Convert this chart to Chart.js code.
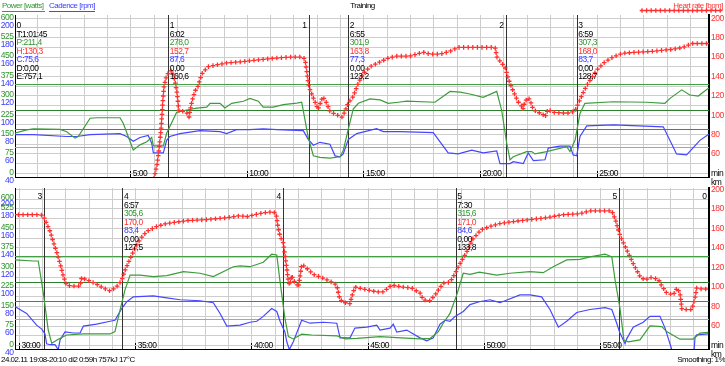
<!DOCTYPE html>
<html>
<head>
<meta charset="utf-8">
<script src="https://cdn.jsdelivr.net/npm/chart.js"></script>
<style>
body { margin: 0; background: #fff; }
#wrap { position: relative; width: 725px; height: 366px; overflow: hidden;
        font-family: "Liberation Sans", Arial, sans-serif; font-size: 8px; letter-spacing: -0.5px; }
canvas { position: absolute; left: 0; top: 0; }
.t { position: absolute; white-space: nowrap; line-height: 10px; }
</style>
</head>
<body>
<div id="wrap">
  <canvas id="top" width="725" height="366"></canvas>
  <canvas id="bottom" width="725" height="366"></canvas>
  <div class="t" style="left:2px;top:1px;color:#2e962e;border-bottom:1px solid #3c9c3c;padding-right:1px">Power [watts]</div>
  <div class="t" style="left:49px;top:1px;color:#3a3aff;border-bottom:1px solid #4646ff">Cadence [rpm]</div>
  <div class="t" style="left:0;width:725px;top:1px;text-align:center">Training</div>
  <div class="t" style="right:2px;top:1px;color:#ff3030">Heart rate [bpm]</div>
  <div class="t" style="left:1px;top:355px">24.02.11 19:08-20:10 di2 0:59h 757kJ 17°C</div>
  <div class="t" style="right:0;top:355px">Smoothing: 1%</div>
</div>
<script>
const FONT = '"Liberation Sans", Arial, sans-serif';
const FS = 8.5;
const GREEN = '#3c9c3c', GREEN_TXT = '#2e962e', BLUE = '#4646ff', BLUE_TXT = '#3a3aff', RED = '#ff3030', GRID = '#cdcdcd';

// heart rate [bpm] over time [min]
const hrTime = [
  6.0, 6.13, 6.21, 6.3, 6.34, 6.38, 6.43, 6.52, 6.64, 6.77,
  6.9, 6.99, 7.07, 7.24, 7.41, 7.5, 7.54, 7.63, 7.76, 7.89,
  7.97, 8.06, 8.31, 8.7, 9.13, 9.68, 10.41, 11.27, 11.83, 12.34,
  12.47, 12.56, 12.64, 12.81, 12.98, 13.03, 13.2, 13.24, 13.41, 13.54,
  13.76, 14.06, 14.19, 14.31, 14.53, 14.74, 14.96, 15.26, 15.69, 16.05,
  16.42, 16.97, 17.53, 17.83, 18.26, 18.69, 19.03, 19.42, 19.97, 20.62,
  20.7, 20.92, 21.04, 21.21, 21.34, 21.47, 21.6, 21.77, 21.81, 21.9,
  22.03, 22.11, 22.24, 22.41, 22.63, 22.76, 22.89, 23.1, 23.7, 24.04,
  24.13, 24.26, 24.39, 24.56, 24.77, 24.99, 25.33, 25.67, 26.1, 26.7,
  27.39, 28.24, 28.68, 29.06, 29.7,
  30.89, 31.03, 31.17, 31.32, 31.46, 31.6, 31.75, 31.89, 32.03, 32.25,
  32.61, 32.68, 32.82, 33.04, 33.32, 33.61, 33.9, 34.11, 34.25, 34.4,
  34.54, 34.76, 34.97, 35.19, 35.48, 35.91, 36.34, 37.2, 38.06, 38.92,
  39.49, 39.78, 40.49, 40.92, 41.04, 41.11, 41.21, 41.35, 41.42, 41.5,
  41.57, 41.64, 41.71, 41.78, 41.9, 42.0, 42.07, 42.14, 42.28, 42.64,
  43.07, 43.43, 43.65, 43.72, 43.79, 44.01, 44.22, 44.29, 44.43, 44.79,
  45.37, 45.65, 46.01, 46.51, 46.87, 47.23, 47.37, 47.66, 47.88, 48.23,
  48.52, 48.74, 48.95, 49.24, 49.52, 49.74, 49.81, 50.24, 50.67, 51.24,
  51.96, 52.68, 53.39, 54.11, 54.54, 55.48, 55.62, 55.83, 56.12, 56.4,
  56.69, 56.91, 57.12, 57.48, 57.63, 57.84, 58.13, 58.28, 58.41, 58.49,
  58.56, 58.92, 59.06, 59.13, 59.35, 59.63
];
const hrBpm = [
  35, 49, 64, 85, 100, 116, 130, 139, 145, 146,
  135, 122, 104, 104, 102, 98, 104, 115, 125, 130,
  137, 143, 150, 152, 154, 155, 157, 159, 160, 160,
  158, 143, 129, 119, 109, 106, 117, 119, 112, 104,
  101, 98, 104, 112, 119, 132, 143, 150, 155, 159,
  161, 161, 165, 163, 163, 166, 170, 170, 170, 170,
  160, 153, 150, 136, 128, 121, 114, 109, 106, 114,
  118, 116, 107, 103, 102, 98, 106, 103, 102, 104,
  109, 116, 123, 131, 139, 147, 155, 160, 164, 165,
  166, 168, 170, 174, 174,
  174, 173, 165, 157, 146, 136, 124, 111, 102, 101,
  101, 110, 108, 106, 103, 99, 96, 99, 102, 107,
  117, 129, 140, 149, 157, 162, 165, 168, 169, 171,
  173, 172, 176, 177, 175, 163, 152, 145, 133, 119,
  105, 102, 112, 107, 104, 100, 111, 123, 121, 113,
  109, 105, 102, 94, 87, 84, 83, 90, 100, 98,
  95, 95, 102, 100, 99, 94, 87, 86, 92, 104,
  105, 114, 124, 136, 150, 155, 158, 162, 165, 167,
  169, 171, 174, 175, 178, 178, 170, 153, 138, 124,
  111, 107, 110, 108, 101, 94, 92, 99, 94, 78,
  77, 77, 89, 99, 98, 98
];

// power [watts]
const powTime = [
  0, 0.54, 0.83, 1.97, 2.26, 2.61, 2.75, 3.26, 3.54, 4.54,
  4.68, 5.11, 5.4, 5.69, 5.9, 5.97, 6.4, 6.54, 6.97, 7.4,
  7.83, 8.26, 8.4, 8.83, 9.04, 9.33, 9.83, 10.11, 10.47, 10.68,
  11.11, 11.54, 12.12, 12.33, 12.61, 12.83, 13.11, 13.54, 13.97, 14.11,
  14.33, 14.54, 14.76, 15.26, 15.69, 16.04, 16.47, 16.83, 18.04, 18.69,
  19.12, 19.54, 20.11, 20.69, 20.9, 21.12, 21.26, 21.4, 21.97, 22.19,
  22.33, 22.83, 23.69, 23.83, 24.05, 24.26, 24.47, 25.69, 27.12, 27.9,
  28.12, 28.62, 28.97, 29.33, 29.76,
  29.81, 30.6, 30.81, 31.03, 31.24, 31.39, 31.67, 32.03, 32.75, 33.9,
  34.11, 34.33, 34.54, 34.76, 35.19, 35.76, 36.34, 37.05, 37.77, 38.34,
  39.2, 39.49, 39.92, 40.49, 40.85, 41.07, 41.21, 41.42, 41.57, 41.78,
  42.14, 42.57, 43.65, 44.01, 44.51, 45.51, 46.23, 47.23, 47.66, 48.02,
  48.23, 48.52, 48.81, 49.09, 49.38, 49.78, 50.53, 51.1, 51.96, 52.53,
  52.96, 53.54, 54.11, 54.54, 55.19, 55.48, 55.62, 55.83, 56.0, 56.19,
  56.69, 57.12, 57.63, 57.84, 58.41, 58.98, 59.27, 59.63
];
const powWatts = [
  155, 168, 172, 170, 161, 136, 142, 213, 215, 215,
  194, 90, 110, 122, 139, 106, 106, 155, 236, 245,
  252, 256, 271, 271, 253, 271, 279, 290, 279, 256,
  256, 266, 272, 275, 139, 68, 62, 59, 64, 88,
  172, 249, 271, 288, 284, 271, 275, 279, 275, 317,
  314, 307, 294, 317, 245, 116, 52, 64, 84, 84,
  75, 84, 103, 84, 129, 232, 271, 277, 275, 271,
  290, 323, 303, 299, 329,
  329, 325, 325, 201, 60, 9, 25, 41, 45, 45,
  54, 137, 214, 271, 271, 265, 269, 284, 278, 265,
  303, 306, 303, 320, 351, 348, 246, 105, 35, 26,
  44, 41, 38, 26, 28, 35, 31, 26, 28, 54,
  86, 124, 195, 278, 274, 282, 271, 278, 284, 280,
  303, 329, 331, 341, 351, 341, 252, 144, 22, 15,
  22, 76, 73, 54, 25, 25, 48, 51
];

// cadence [rpm]
const cadTime = [
  0, 0.83, 2.26, 2.69, 3.26, 4.54, 4.83, 5.11, 5.4, 5.75,
  5.9, 5.97, 6.4, 6.54, 6.68, 7.11, 7.97, 8.83, 9.11, 9.54,
  10.11, 10.68, 11.26, 12.4, 12.61, 12.83, 13.11, 13.54, 13.76, 13.97,
  14.11, 14.33, 14.69, 15.54, 15.83, 16.54, 17.97, 18.61, 19.04, 19.62,
  20.11, 20.69, 20.83, 21.26, 21.4, 21.83, 22.04, 22.26, 22.76, 22.9,
  23.4, 23.83, 23.97, 24.12, 24.26, 24.55, 25.69, 27.83, 28.4, 28.83,
  29.4, 29.76,
  29.81, 30.31, 30.74, 30.96, 31.1, 31.17, 31.32, 31.53, 31.67, 31.75,
  31.96, 32.32, 32.61, 32.75, 33.32, 33.9, 34.11, 34.4, 34.62, 34.9,
  35.76, 36.34, 36.91, 37.77, 38.34, 38.63, 38.92, 39.49, 39.92, 40.21,
  40.49, 40.85, 41.07, 41.21, 41.42, 41.5, 41.61, 41.78, 42.14, 42.5,
  43.07, 43.65, 43.79, 44.22, 44.43, 44.94, 45.37, 45.51, 45.94, 46.08,
  46.23, 46.66, 46.87, 47.23, 47.52, 47.8, 48.09, 48.31, 48.52, 48.74,
  49.09, 49.38, 49.78, 50.24, 50.67, 51.53, 51.96, 52.46, 52.82, 53.18,
  53.54, 53.97, 54.54, 55.19, 55.48, 55.69, 55.83, 56.05, 56.12, 56.4,
  56.83, 57.12, 57.55, 57.77, 58.06, 58.3, 58.98, 59.06, 59.13, 59.63
];
const cadRpm = [
  80, 80, 78, 78, 80, 81, 78, 73, 77, 79,
  71, 61, 61, 74, 78, 81, 84, 83, 81, 85,
  85, 86, 85, 84, 75, 69, 72, 70, 58, 57,
  60, 75, 81, 86, 83, 83, 82, 61, 60, 64,
  61, 63, 50, 50, 52, 50, 61, 53, 54, 66,
  68, 68, 59, 58, 78, 89, 90, 88, 60, 59,
  74, 80,
  80, 73, 61, 57, 52, 42, 41, 41, 36, 46,
  54, 53, 53, 60, 62, 65, 66, 78, 85, 90,
  91, 89, 87, 86, 84, 73, 60, 61, 64, 65,
  70, 78, 75, 65, 54, 44, 36, 44, 66, 63,
  64, 63, 48, 48, 58, 59, 61, 56, 58, 62,
  54, 56, 53, 48, 45, 48, 62, 66, 65, 70,
  75, 82, 85, 87, 84, 92, 92, 90, 77, 59,
  65, 74, 77, 79, 77, 63, 53, 42, 47, 59,
  64, 70, 70, 58, 36, 22, 22, 49, 51, 52
];

// tick labels
const powTicks = [0, 75, 150, 225, 300, 375, 450, 525, 600];
const cadTicks = [40, 60, 80, 100, 120, 140, 160, 180, 200];
const hrGrid = [40, 50, 60, 70, 80, 90, 100, 110, 120, 130, 140, 150, 160, 170, 180, 190, 200];

// heart rate limit lines
const limitBpm = [132, 105, 86, 67.5];
const limitColors = ['#45a045', '#2c7f2c', '#3a8f3a', '#7cc47c'];

// laps
const lapNo = ['0', '1', '2', '3', '4', '5'];
const lapStart = [0, 6.61, 14.33, 24.12, 34.43, 48.77];
const lapEnd = [59.66, 12.64, 21.09, 31.07, 41.35, 55.8];
const lapTime = ['T:1:01:45', '6:02', '6:55', '6:59', '6:57', '7:30'];
const lapPower = ['P:211,4', '278,0', '301,9', '307,3', '305,6', '315,6'];
const lapHr = ['H:130,3', '152,7', '163,8', '168,0', '170,0', '171,0'];
const lapCad = ['C:75,6', '87,6', '77,3', '83,7', '83,4', '84,6'];
const lapDist = ['D:0,00', '0,00', '0,00', '0,00', '0,00', '0,00'];
const lapLast = ['E:757,1', '160,6', '123,2', '128,7', '127,5', '133,8'];
const lapRowColors = ['#000', '#000', GREEN_TXT, RED, BLUE_TXT, '#000', '#000'];

// panel layout: top strip 0-30 min, bottom strip 30-60 min
const panels = [
  { id: 'top', xMin: 0.04, xMax: 29.79, padTop: 15, padBottom: 189, hrMin: 36.18, hrMax: 203.41, xPad: -1.4, labelFloor: 0 },
  { id: 'bottom', xMin: 29.81, xMax: 59.66, padTop: 188, padBottom: 17, hrMin: 36.62, hrMax: 201.33, xPad: -1.5, labelFloor: 197.7 }
];

function pts(xs, ys) { return xs.map((x, i) => ({ x: x, y: ys[i] })); }

function fix(w, h) {
  return s => {
    if (w !== null) s.width = w;
    if (h !== null) s.height = h;
    s.paddingLeft = s.paddingRight = s.paddingTop = s.paddingBottom = 0;
  };
}

function cross(ctx, x, y) {
  ctx.moveTo(x - 2.3, y); ctx.lineTo(x + 2.3, y);
  ctx.moveTo(x, y - 2.3); ctx.lineTo(x, y + 2.3);
}

const decor = {
  id: 'decor',
  beforeDatasetsDraw(chart) {
    const { ctx, chartArea: a, scales } = chart;
    ctx.save();
    ctx.lineWidth = 1;
    limitBpm.forEach((v, i) => {
      const y = Math.round(scales.hr.getPixelForValue(v)) + 0.5;
      ctx.strokeStyle = limitColors[i];
      ctx.beginPath(); ctx.moveTo(a.left, y); ctx.lineTo(a.right, y); ctx.stroke();
    });
    ctx.strokeStyle = '#333';
    lapStart.concat(lapEnd).forEach(t => {
      const px = scales.x.getPixelForValue(t);
      if (px > a.left + 1 && px < a.right - 1) {
        const x = Math.round(px) + 0.5;
        ctx.beginPath(); ctx.moveTo(x, a.top); ctx.lineTo(x, a.bottom); ctx.stroke();
      }
    });
    ctx.restore();
  },
  afterDatasetsDraw(chart) {
    const { ctx, chartArea: a } = chart;
    const pts = chart.getDatasetMeta(2).data;
    ctx.save();
    ctx.beginPath();
    ctx.rect(a.left, a.top, a.right - a.left, a.bottom - a.top);
    ctx.clip();
    ctx.strokeStyle = RED;
    ctx.lineWidth = 1.3;
    ctx.beginPath();
    let carry = 0;
    for (let i = 0; i < pts.length - 1; i++) {
      const p = pts[i], q = pts[i + 1];
      if (!isFinite(p.x) || !isFinite(q.x)) { carry = 0; continue; }
      const dx = q.x - p.x, dy = q.y - p.y, len = Math.hypot(dx, dy);
      if (len === 0) continue;
      let d = carry;
      while (d <= len) { cross(ctx, p.x + dx * d / len, p.y + dy * d / len); d += 4.6; }
      carry = d - len;
    }
    ctx.stroke();
    ctx.restore();
  },
  afterDraw(chart) {
    const { ctx, chartArea: a, scales } = chart;
    const xs = scales.x, hr = scales.hr, pow = scales.pow, cad = scales.cad;
    const floor = chart.options.plugins.decor.labelFloor;
    ctx.save();
    ctx.font = FS + 'px ' + FONT;
    ctx.textBaseline = 'middle';
    // power and cadence labels share the left column, power above cadence
    ctx.textAlign = 'right';
    ctx.fillStyle = GREEN_TXT;
    powTicks.forEach(v => ctx.fillText(String(v), a.left - 1.5, Math.max(pow.getPixelForValue(v) - 1, floor)));
    ctx.fillStyle = BLUE_TXT;
    cadTicks.forEach(v => ctx.fillText(String(v), a.left - 1.5, Math.max(cad.getPixelForValue(v) + 7, floor + 5.6)));
    const y0 = hr.getPixelForValue(200) + 7.5;
    lapNo.forEach((n, i) => {
      const s = xs.getPixelForValue(lapStart[i]);
      if (s >= a.left - 2 && s <= a.right - 10) {
        const rows = [n, lapTime[i], lapPower[i], lapHr[i], lapCad[i], lapDist[i], lapLast[i]];
        ctx.textAlign = 'left';
        rows.forEach((txt, r) => {
          ctx.fillStyle = lapRowColors[r];
          ctx.fillText(txt, Math.max(s, a.left) + 1.5, y0 + r * 8.5);
        });
      }
      const e = xs.getPixelForValue(lapEnd[i]);
      if (e >= a.left + 5 && e <= a.right + 1) {
        ctx.fillStyle = '#000';
        ctx.textAlign = 'right';
        ctx.fillText(n, e - 2.5, y0);
      }
    });
    ctx.fillStyle = '#000';
    ctx.textAlign = 'left';
    ctx.fillText('km', hr.left + 2, hr.getPixelForValue(40) + 9);
    if (chart.options.plugins.decor.header) {
      ctx.strokeStyle = RED;
      ctx.lineWidth = 1.3;
      ctx.beginPath();
      for (let x = 642; x < 724; x += 4.6) cross(ctx, x, 10.5);
      ctx.stroke();
    }
    ctx.restore();
  }
};

panels.forEach(p => {
  const font = { family: FONT, size: FS };
  new Chart(document.getElementById(p.id), {
    type: 'line',
    data: {
      datasets: [
        { label: 'Power', data: pts(powTime, powWatts), yAxisID: 'pow', borderColor: GREEN, borderWidth: 1.2, pointRadius: 0, tension: 0, fill: false },
        { label: 'Cadence', data: pts(cadTime, cadRpm), yAxisID: 'cad', borderColor: BLUE, borderWidth: 1.2, pointRadius: 0, tension: 0, fill: false },
        { label: 'Heart rate', data: pts(hrTime, hrBpm), yAxisID: 'hr', showLine: false, pointRadius: 0, borderColor: RED }
      ]
    },
    options: {
      responsive: false,
      devicePixelRatio: 1,
      animation: false,
      events: [],
      layout: { padding: { left: 0, right: 0, top: p.padTop, bottom: p.padBottom } },
      plugins: {
        legend: { display: false },
        tooltip: { enabled: false },
        decor: { header: p.id === 'top', labelFloor: p.labelFloor }
      },
      scales: {
        x: {
          type: 'linear', position: 'bottom', min: p.xMin, max: p.xMax, bounds: 'data',
          afterBuildTicks: s => {
            const t = [];
            for (let m = Math.ceil(s.min); m <= Math.floor(s.max); m++) t.push({ value: m });
            s.ticks = t;
          },
          afterFit: fix(null, 0),
          grid: {
            color: GRID, lineWidth: 1, drawTicks: true, tickLength: -6, tickWidth: 1,
            tickColor: c => (c.tick && c.tick.value % 5 === 0) ? '#000' : 'rgba(0,0,0,0)'
          },
          border: { display: true, color: '#000', width: 1 },
          ticks: {
            autoSkip: false, maxRotation: 0, minRotation: 0, align: 'start', labelOffset: 2,
            mirror: true, padding: p.xPad,
            color: '#000', font: font,
            callback: v => v % 5 === 0 ? v + ':00' : ''
          }
        },
        pow: {
          type: 'linear', position: 'left', display: false, bounds: 'data',
          min: (p.hrMin - 40) * 3.75, max: (p.hrMax - 40) * 3.75
        },
        cad: {
          type: 'linear', position: 'left', bounds: 'data',
          min: p.hrMin, max: p.hrMax,
          afterBuildTicks: s => { s.ticks = cadTicks.map(v => ({ value: v })); },
          afterFit: fix(15, null),
          grid: { display: false, drawTicks: false },
          border: { display: true, color: '#000', width: 1 },
          ticks: { display: false }
        },
        hr: {
          type: 'linear', position: 'right', bounds: 'data',
          min: p.hrMin, max: p.hrMax,
          afterBuildTicks: s => { s.ticks = hrGrid.map(v => ({ value: v })); },
          afterFit: fix(16, null),
          grid: { color: GRID, lineWidth: 1, drawTicks: false },
          border: { display: true, color: '#000', width: 2 },
          ticks: {
            padding: 2, font: font, autoSkip: false,
            color: c => (c.tick && c.tick.value === 40) ? '#000' : RED,
            callback: v => v % 20 === 0 ? (v === 40 ? 'min' : String(v)) : ''
          }
        }
      }
    },
    plugins: [decor]
  });
});
</script>
</body>
</html>
